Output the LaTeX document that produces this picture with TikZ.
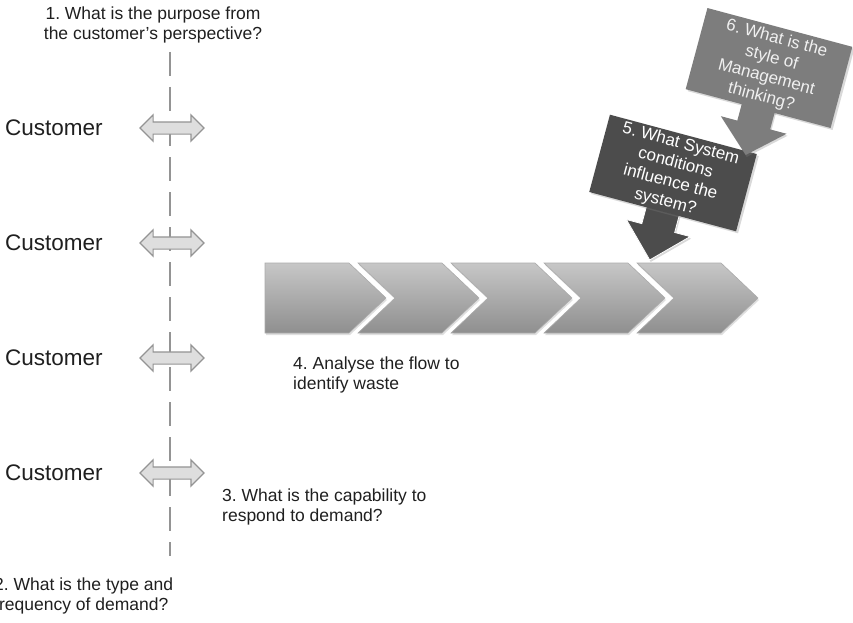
\documentclass[tikz,border=0pt]{standalone}
\usepackage{fontspec}
\setmainfont{Liberation Sans}
\usetikzlibrary{shapes.arrows,shadows}
\begin{document}
\frenchspacing
\begin{tikzpicture}[x=1pt,y=-1pt,
  lbl/.style={font=\fontsize{17.5}{20}\selectfont, text=black!88, inner sep=0pt, align=left},
  cust/.style={font=\fontsize{22.5}{26}\selectfont, text=black!88, anchor=west, inner sep=0pt},
  dbl/.style={double arrow, draw=black!42, fill=black!13, line width=1.2pt, minimum height=64pt,
    minimum width=25pt, double arrow head extend=7pt, inner sep=5.5pt},
  vline/.style={draw=black!42, line width=2.6pt, dash pattern=on 24pt off 11pt},
  chev/.style={top color=black!22, bottom color=black!44, draw=black!33, line width=0.6pt,
    drop shadow={shadow xshift=1pt, shadow yshift=-2pt, opacity=0.25}},
  qbox/.style={rotate=-15, align=center, inner sep=0pt, font=\fontsize{17}{20}\selectfont,
    drop shadow={shadow xshift=2pt, shadow yshift=-2pt, opacity=0.3}},
  box5/.style={qbox, fill=black!70, text=white, minimum width=152pt, minimum height=80pt},
  box6/.style={qbox, fill=black!51, text=black!6, minimum width=150pt, minimum height=84pt},
  arr/.style={drop shadow={shadow xshift=1pt, shadow yshift=-2pt, opacity=0.3}},
]
\useasboundingbox (0,0) rectangle (853,623);

% dashed vertical line
\coordinate (ltop) at (170,52);
\coordinate (lbot) at (170,556);
\draw[vline] (ltop) -- (lbot);

% customers and double arrows
\foreach \i/\y in {1/128,2/243,3/358,4/473}{
  \node[cust] (c\i) at (5,\y) {Customer};
  \node[dbl] (a\i) at (172,\y) {};
}

% texts
\node[lbl, align=center] (t1) at (153,25) {1. What is the purpose from\\the customer’s perspective?};
\node[lbl, anchor=west] (t2) at (-6,596) {2. What is the type and\\frequency of demand?};
\node[lbl, anchor=west] (t3) at (222,507) {3. What is the capability to\\respond to demand?};
\node[lbl, anchor=west] (t4) at (293,375) {4. Analyse the flow to\\identify waste};

% chevrons
\path[chev] (265,263) -- (349,263) -- (386,298) -- (349,333) -- (265,333) -- cycle;
\foreach \k in {1,...,4}{
  \pgfmathsetmacro{\xa}{265+93*\k}
  \path[chev] (\xa,263) -- ({\xa+84},263) -- ({\xa+121},298) -- ({\xa+84},333)
     -- (\xa,333) -- ({\xa+37},298) -- cycle;
}

% box 5 and its arrow
\coordinate (p5) at (673,173);
\begin{scope}[shift={(p5)}, rotate=-15]
  \path[arr, fill=black!70, draw=white, line width=0.8pt]
    (-17,39) -- (-17,57) -- (-33,57) -- (0,90) -- (33,57) -- (17,57) -- (17,39) -- cycle;
\end{scope}
\node[box5] (b5) at (p5) {5. What System\\conditions\\influence the\\system?};

% box 6 and its arrow
\coordinate (p6) at (769,68);
\begin{scope}[shift={(p6)}, rotate=-15]
  \path[arr, fill=black!51]
    (-17,40) -- (-17,59) -- (-34,59) -- (0,90) -- (34,59) -- (17,59) -- (17,40) -- cycle;
\end{scope}
\node[box6] (b6) at (p6) {6. What is the\\style of\\Management\\thinking?};
\end{tikzpicture}
\end{document}
